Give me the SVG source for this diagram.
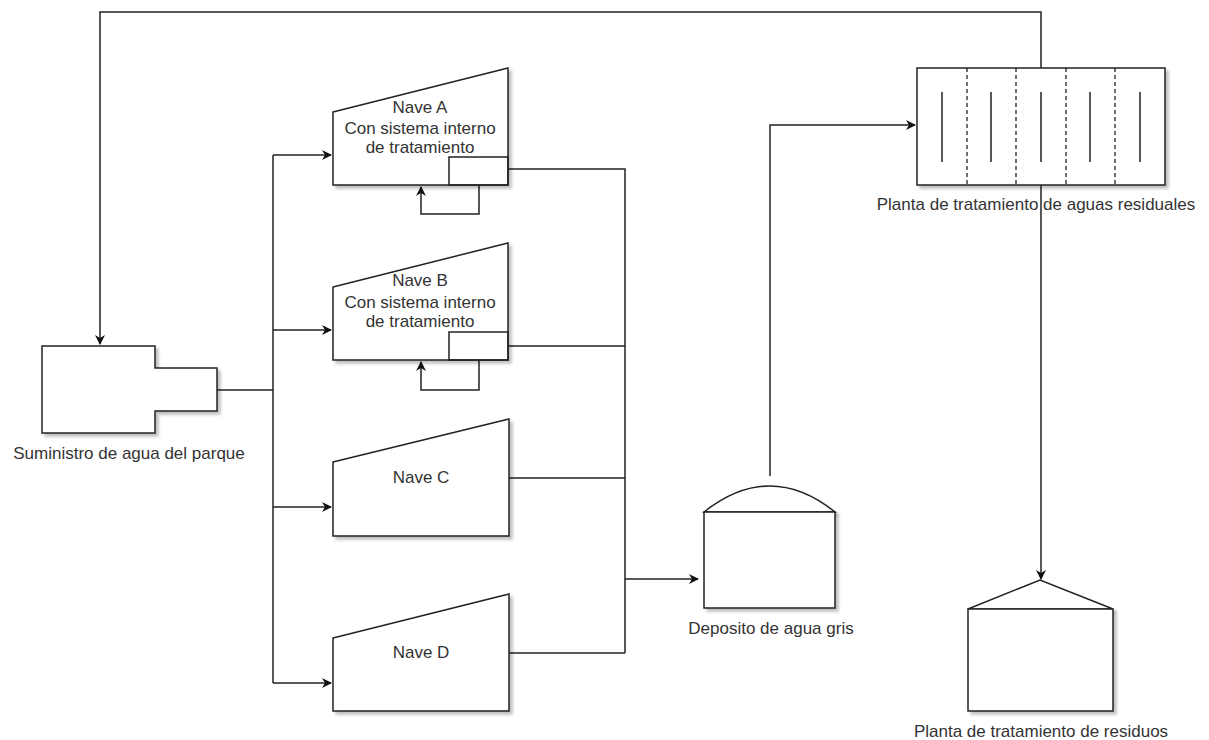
<svg xmlns="http://www.w3.org/2000/svg" width="1209" height="740" viewBox="0 0 1209 740">
<defs>
<marker id="arr" viewBox="0 0 10 10" refX="9" refY="5" markerWidth="10" markerHeight="10" markerUnits="userSpaceOnUse" orient="auto">
<path d="M0,0 L10,5 L0,10 L3,5 Z" fill="#111"/>
</marker>
<filter id="sh" x="-10%" y="-10%" width="130%" height="130%">
<feGaussianBlur in="SourceAlpha" stdDeviation="1.5"/>
<feOffset dx="3" dy="3" result="b"/>
<feComponentTransfer><feFuncA type="linear" slope="0.25"/></feComponentTransfer>
<feMerge><feMergeNode/><feMergeNode in="SourceGraphic"/></feMerge>
</filter>
</defs>
<style>
.s{fill:#fff;stroke:#222;stroke-width:1.5;filter:url(#sh)}
.n{fill:none;stroke:#222;stroke-width:1.5}
.d{fill:none;stroke:#222;stroke-width:1.3;stroke-dasharray:4 3}
.c{fill:none;stroke:#222;stroke-width:1.5}
.t{font-family:"Liberation Sans",Arial,sans-serif;font-size:17px;fill:#333;text-anchor:middle}
</style>
<rect width="1209" height="740" fill="#fff"/>

<g id="connectors">
<path class="c" d="M1041,68 V12 H100 V344" marker-end="url(#arr)"/>
<path class="c" d="M217,390 H273"/>
<path class="c" d="M273,155 V683"/>
<path class="c" d="M273,155 H331" marker-end="url(#arr)"/>
<path class="c" d="M273,330 H331" marker-end="url(#arr)"/>
<path class="c" d="M273,507 H331" marker-end="url(#arr)"/>
<path class="c" d="M273,683 H331" marker-end="url(#arr)"/>
<path class="c" d="M479,185 V214 H421 V187" marker-end="url(#arr)"/>
<path class="c" d="M479,360 V390 H421 V362" marker-end="url(#arr)"/>
<path class="c" d="M508,169 H625 V653"/>
<path class="c" d="M508,346 H625"/>
<path class="c" d="M509,478 H625"/>
<path class="c" d="M509,653 H625"/>
<path class="c" d="M625,579 H698" marker-end="url(#arr)"/>
<path class="c" d="M770,476 V125 H915" marker-end="url(#arr)"/>
<path class="c" d="M1041,185 V579" marker-end="url(#arr)"/>
</g>

<g id="supply">
<path class="s" d="M42,346 H155 V368 H217 V411 H155 V433 H42 Z"/>
<text class="t" x="129" y="459">Suministro de agua del parque</text>
</g>

<g id="naveA">
<path class="s" d="M333,112 L508,68 V185 H333 Z"/>
<rect class="n" x="449" y="157" width="59" height="28"/>
<text class="t" x="420" y="113">Nave A</text>
<text class="t" x="420" y="134">Con sistema interno</text>
<text class="t" x="420" y="153">de tratamiento</text>
</g>

<g id="naveB">
<path class="s" d="M333,287 L508,243 V360 H333 Z"/>
<rect class="n" x="449" y="332" width="59" height="28"/>
<text class="t" x="420" y="286">Nave B</text>
<text class="t" x="420" y="308">Con sistema interno</text>
<text class="t" x="420" y="327">de tratamiento</text>
</g>

<g id="naveC">
<path class="s" d="M333,462 L509,419 V536 H333 Z"/>
<text class="t" x="421" y="483">Nave C</text>
</g>

<g id="naveD">
<path class="s" d="M333,638 L509,594 V711 H333 Z"/>
<text class="t" x="421" y="658">Nave D</text>
</g>

<g id="deposito">
<path class="s" d="M704,512 Q770,460 835,512 Z"/>
<rect class="s" x="704" y="512" width="131" height="96"/>
<text class="t" x="771" y="634">Deposito de agua gris</text>
</g>

<g id="planta_aguas">
<rect class="s" x="917" y="68" width="248" height="117"/>
<path class="d" d="M967,68 V185 M1016,68 V185 M1066,68 V185 M1115,68 V185"/>
<path class="n" d="M942,92 V162 M991,92 V162 M1041,92 V162 M1090,92 V162 M1140,92 V162"/>
<text class="t" x="1036" y="210">Planta de tratamiento de aguas residuales</text>
</g>

<g id="planta_residuos">
<path class="s" d="M968,609 L1040,580 L1113,609 Z"/>
<rect class="s" x="968" y="609" width="145" height="102"/>
<text class="t" x="1041" y="737">Planta de tratamiento de residuos</text>
</g>
</svg>
